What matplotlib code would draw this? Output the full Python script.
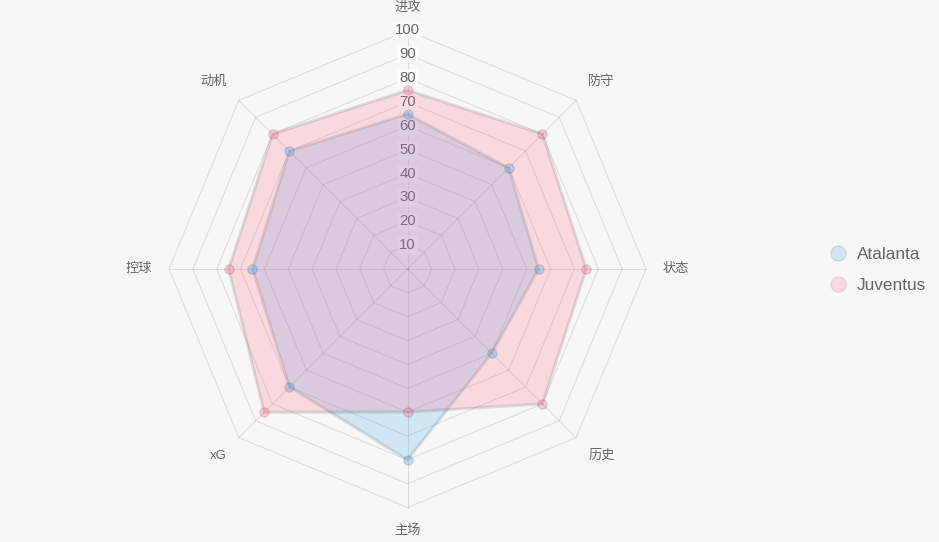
import numpy as np
import matplotlib
matplotlib.use('Agg')
import matplotlib.pyplot as plt
from matplotlib.lines import Line2D

categories = ['进攻', '防守', '状态', '历史', '主场', 'xG', '控球', '动机']
atalanta = [65, 60, 55, 50, 80, 70, 65, 70]
juventus = [75, 80, 75, 80, 60, 85, 75, 80]
ticks = [10, 20, 30, 40, 50, 60, 70, 80, 90, 100]
series_names = ['Atalanta', 'Juventus']

plt.rcParams['font.family'] = ['Liberation Sans', 'Noto Sans CJK SC', 'DejaVu Sans']

BG = '#f7f7f5'
GRID = (0, 0, 0, 0.1)
TXT = '#666666'
fills = [(54/255, 162/255, 235/255, 0.2), (255/255, 99/255, 132/255, 0.2)]
pts = [(54/255, 162/255, 235/255, 0.3), (255/255, 99/255, 132/255, 0.3)]

W, H = 939, 542
fig = plt.figure(figsize=(W/100, H/100), dpi=100, facecolor=BG)
cx, cy, R = 407.5, 269, 238.5
ax = fig.add_axes([(cx-R)/W, (H-cy-R)/H, 2*R/W, 2*R/H], projection='polar')
ax.set_theta_zero_location('N')
ax.set_theta_direction(-1)
ax.set_ylim(0, 100)
ax.set_axis_off()

n = len(categories)
theta = np.arange(n) * 2*np.pi/n
theta_c = np.append(theta, theta[0])

for t in ticks:
    ax.plot(theta_c, [t]*(n+1), color=GRID, lw=0.75, zorder=1, clip_on=False)
for th in theta:
    ax.plot([th, th], [0, ticks[-1]], color=GRID, lw=0.75, zorder=1, clip_on=False)

for t in ticks:
    ax.text(0, t, str(t), ha='center', va='center', fontsize=10.7, color=TXT, zorder=2,
            bbox=dict(boxstyle='square,pad=0.12', fc=(1, 1, 1, 0.75), ec='none'))

for vals, fc, pc in zip([atalanta, juventus], fills, pts):
    v = np.append(vals, vals[0])
    ax.fill(theta_c, v, facecolor=fc, edgecolor=(0, 0, 0, 0.1), lw=2.2, zorder=3, clip_on=False)
    ax.scatter(theta, vals, s=45, facecolor=pc, edgecolor=(0, 0, 0, 0.1), lw=1, zorder=4, clip_on=False)

d = 17
for th, cat in zip(theta, categories):
    s, c = np.sin(th), np.cos(th)
    dx, dy = d*s, d*c
    if abs(s) < 0.1:
        ha = 'center'
    elif s > 0:
        ha = 'left'
    else:
        ha = 'right'
    if abs(c) < 0.1:
        va = 'center'
    elif c > 0:
        va = 'bottom'
    else:
        va = 'top'
    ax.annotate(cat, xy=(th, ticks[-1]), xytext=(dx, dy), textcoords='offset pixels',
                ha=ha, va=va, fontsize=9.5, color=TXT, annotation_clip=False)

handles = [Line2D([], [], ls='none', marker='o', markersize=11, markerfacecolor=fc,
                  markeredgecolor=(0, 0, 0, 0.08)) for fc in fills]
fig.legend(handles, series_names, loc='center left', bbox_to_anchor=(814/W, 1-270/H),
           frameon=False, fontsize=12.4, labelcolor=TXT, handlelength=1.0,
           handletextpad=0.6, labelspacing=0.92)

fig.savefig('out.png', dpi=100, facecolor=BG)
